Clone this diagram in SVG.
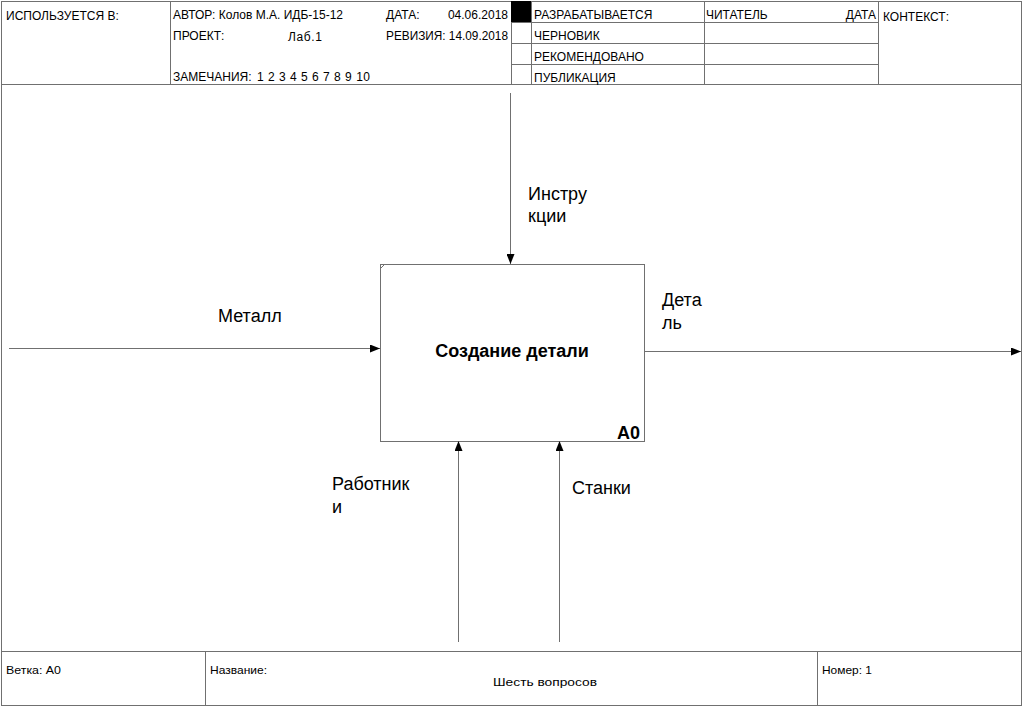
<svg xmlns="http://www.w3.org/2000/svg" width="1023" height="707" viewBox="0 0 1023 707">
<style>
.ln{stroke:#707070;stroke-width:1;fill:none}
.t{font-family:"Liberation Sans",Arial,sans-serif;font-size:12px;fill:#000}
.f{font-family:"Liberation Sans",Arial,sans-serif;font-size:11px;fill:#000}
.lbl{font-family:"Liberation Sans",Arial,sans-serif;font-size:18px;fill:#000}
.ttl{font-family:"Liberation Sans",Arial,sans-serif;font-size:18px;font-weight:bold;fill:#000}
</style>
<defs>
<marker id="ah" viewBox="0 0 10 8" refX="10" refY="4" markerWidth="10" markerHeight="8" markerUnits="userSpaceOnUse" orient="auto">
<path d="M0,0 L10,4 L0,8 Z" fill="#000"/>
</marker>
</defs>
<rect width="1023" height="707" fill="#fff"/>
<g id="frame">
<rect class="ln" x="1.5" y="1.5" width="1020" height="704"/>
<line class="ln" x1="1" y1="84.5" x2="1022" y2="84.5"/>
<line class="ln" x1="170.5" y1="1" x2="170.5" y2="84"/>
<line class="ln" x1="511.5" y1="1" x2="511.5" y2="84"/>
<line class="ln" x1="531.5" y1="1" x2="531.5" y2="84"/>
<line class="ln" x1="704.5" y1="1" x2="704.5" y2="84"/>
<line class="ln" x1="878.5" y1="1" x2="878.5" y2="84"/>
<line class="ln" x1="511" y1="22.5" x2="878" y2="22.5"/>
<line class="ln" x1="511" y1="43.5" x2="878" y2="43.5"/>
<line class="ln" x1="511" y1="64.5" x2="878" y2="64.5"/>
<rect x="511" y="1" width="20" height="21" fill="#000"/>
<text class="t" x="6" y="20">ИСПОЛЬЗУЕТСЯ В:</text>
<text class="t" x="173" y="19">АВТОР: Колов М.А. ИДБ-15-12</text>
<text class="t" x="386" y="19">ДАТА:</text>
<text class="t" x="508" y="19" text-anchor="end">04.06.2018</text>
<text class="t" x="173" y="40">ПРОЕКТ:</text>
<text class="t" x="288" y="41" textLength="34" lengthAdjust="spacing">Лаб.1</text>
<text class="t" x="386" y="40" textLength="122" lengthAdjust="spacingAndGlyphs">РЕВИЗИЯ: 14.09.2018</text>
<text class="t" x="173" y="81">ЗАМЕЧАНИЯ:</text>
<text class="t" x="257" y="81" textLength="113" lengthAdjust="spacing">1 2 3 4 5 6 7 8 9 10</text>
<text class="t" x="534" y="19">РАЗРАБАТЫВАЕТСЯ</text>
<text class="t" x="534" y="40">ЧЕРНОВИК</text>
<text class="t" x="534" y="61">РЕКОМЕНДОВАНО</text>
<text class="t" x="534" y="82">ПУБЛИКАЦИЯ</text>
<text class="t" x="706" y="19">ЧИТАТЕЛЬ</text>
<text class="t" x="876" y="19" text-anchor="end">ДАТА</text>
<text class="t" x="883" y="21">КОНТЕКСТ:</text>
<line class="ln" x1="1" y1="651.5" x2="1022" y2="651.5"/>
<line class="ln" x1="205.5" y1="651" x2="205.5" y2="705"/>
<line class="ln" x1="817.5" y1="651" x2="817.5" y2="705"/>
<text class="f" x="6" y="674" textLength="55" lengthAdjust="spacingAndGlyphs">Ветка:  A0</text>
<text class="f" x="210" y="674" textLength="57" lengthAdjust="spacingAndGlyphs">Название:</text>
<text class="f" x="545" y="686" text-anchor="middle" textLength="104" lengthAdjust="spacingAndGlyphs">Шесть вопросов</text>
<text class="f" x="822" y="674" textLength="50" lengthAdjust="spacingAndGlyphs">Номер: 1</text>
</g>
<g id="node-A0">
<rect class="ln" x="380.5" y="264.5" width="264" height="177" fill="#fff"/>
<line class="ln" x1="380.5" y1="268.5" x2="384.5" y2="264.5"/>
<text class="ttl" x="512" y="357" text-anchor="middle">Создание детали</text>
<text class="ttl" x="640" y="439" text-anchor="end" font-size="15">A0</text>
</g>
<g id="connectors">
<line class="ln" x1="510.5" y1="93" x2="510.5" y2="264" marker-end="url(#ah)"/>
<line class="ln" x1="9" y1="348.5" x2="380" y2="348.5" marker-end="url(#ah)"/>
<line class="ln" x1="644" y1="351.5" x2="1021" y2="351.5" marker-end="url(#ah)"/>
<line class="ln" x1="458.5" y1="642" x2="458.5" y2="441" marker-end="url(#ah)"/>
<line class="ln" x1="559.5" y1="642" x2="559.5" y2="441" marker-end="url(#ah)"/>
<text class="lbl" x="528" y="200">Инстру</text>
<text class="lbl" x="528" y="222">кции</text>
<text class="lbl" x="218" y="322">Металл</text>
<text class="lbl" x="662" y="306">Дета</text>
<text class="lbl" x="662" y="329">ль</text>
<text class="lbl" x="332" y="490">Работник</text>
<text class="lbl" x="332" y="513">и</text>
<text class="lbl" x="572" y="494">Станки</text>
</g>
</svg>
